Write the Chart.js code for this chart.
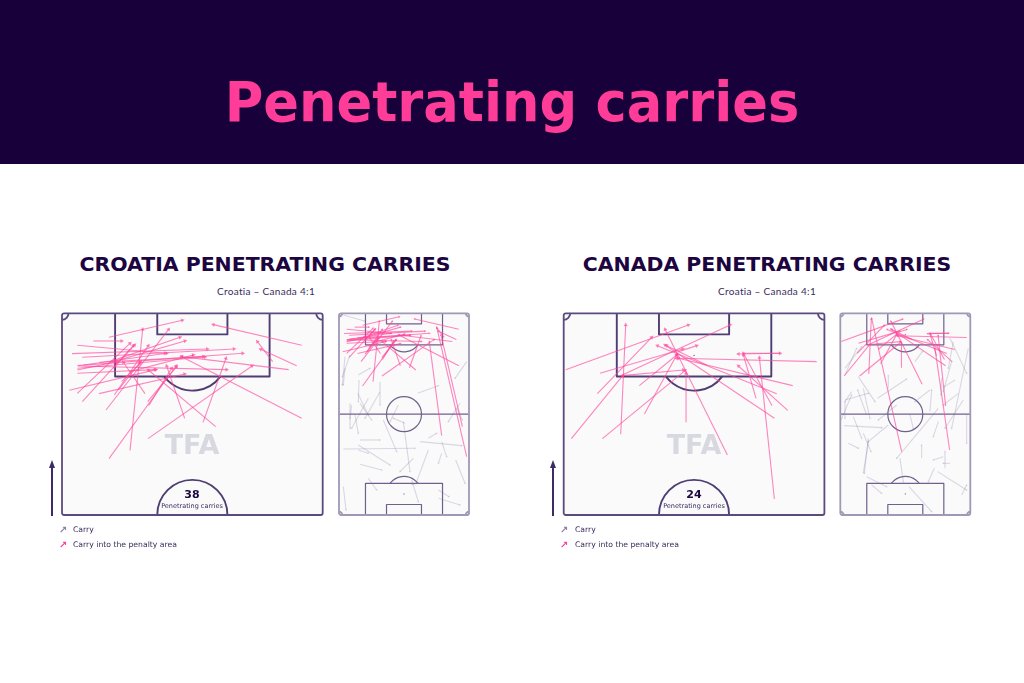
<!DOCTYPE html>
<html>
<head>
<meta charset="utf-8">
<title>Penetrating carries</title>
<script src="https://cdn.jsdelivr.net/npm/chart.js@4"></script>
<style>
  html, body { margin: 0; padding: 0; background: #fff; }
  body { position: relative; width: 1024px; height: 683px; overflow: hidden; font-family: "DejaVu Sans", sans-serif; color: #2a1650; }
  #band { position: absolute; left: 0; top: 0; width: 1024px; height: 164px; background: #18003a; }
  #title { position: absolute; left: 0; top: 62px; width: 1024px; text-align: center; color: #ff3d98; font: bold 56px "DejaVu Sans"; line-height: 80px; transform: scaleX(.94); }
  .abs { position: absolute; white-space: nowrap; }
  .head { font: bold 19px "DejaVu Sans"; color: #1c0540; text-align: center; width: 500px; line-height: 24px; transform: scaleX(1.075); }
  .sub { font: 10px "Lato"; text-align: center; width: 300px; line-height: 14px; color: #3a2a5c; letter-spacing: .3px; }
  .leg { font: 7.7px "DejaVu Sans"; line-height: 12px; color: #3a2a5c; }
  .mark { font: bold 10px "DejaVu Sans"; line-height: 12px; }
  .tfa { font: bold 27px "DejaVu Sans"; color: #d8d8e0; line-height: 30px; width: 120px; text-align: center; letter-spacing: 0; }
  .num { font: bold 11px "DejaVu Sans"; color: #1c0540; width: 60px; text-align: center; line-height: 14px; }
  .lab { font: 6.5px "DejaVu Sans"; width: 80px; text-align: center; line-height: 10px; color: #3a2a5c; }
  canvas { position: absolute; }
</style>
</head>
<body>
<div id="band"></div>
<div id="title">Penetrating carries</div>

<canvas id="croatiaHalf" width="273" height="214" style="left:56px;top:307px"></canvas>
<canvas id="croatiaFull" width="142" height="214" style="left:333px;top:307px"></canvas>
<canvas id="canadaHalf" width="273" height="214" style="left:558px;top:307px"></canvas>
<canvas id="canadaFull" width="142" height="214" style="left:834px;top:307px"></canvas>

<div class="abs head" style="left:15px;top:252px">CROATIA PENETRATING CARRIES</div>
<div class="abs sub" style="left:116px;top:284px">Croatia – Canada 4:1</div>
<div class="abs tfa" style="left:132px;top:430px">TFA</div>
<div class="abs num" style="left:162px;top:488px">38</div>
<div class="abs lab" style="left:152px;top:501px">Penetrating carries</div>
<div class="abs mark" style="left:59px;top:524px;color:#8a7da3">↗</div>
<div class="abs leg" style="left:73px;top:524px">Carry</div>
<div class="abs mark" style="left:59px;top:539px;color:#ff3d98">↗</div>
<div class="abs leg" style="left:73px;top:539px">Carry into the penalty area</div>

<div class="abs head" style="left:517px;top:252px">CANADA PENETRATING CARRIES</div>
<div class="abs sub" style="left:617px;top:284px">Croatia – Canada 4:1</div>
<div class="abs tfa" style="left:634px;top:430px">TFA</div>
<div class="abs num" style="left:664px;top:488px">24</div>
<div class="abs lab" style="left:654px;top:501px">Penetrating carries</div>
<div class="abs mark" style="left:560px;top:524px;color:#8a7da3">↗</div>
<div class="abs leg" style="left:575px;top:524px">Carry</div>
<div class="abs mark" style="left:560px;top:539px;color:#ff3d98">↗</div>
<div class="abs leg" style="left:575px;top:539px">Carry into the penalty area</div>

<svg class="abs" style="left:48px;top:458px" width="8" height="58"><path d="M4 2 L7 10 L5 10 L5 58 L3 58 L3 10 L1 10 Z" fill="#3e2a66"/></svg>
<svg class="abs" style="left:549px;top:458px" width="8" height="58"><path d="M4 2 L7 10 L5 10 L5 58 L3 58 L3 10 L1 10 Z" fill="#3e2a66"/></svg>

<script>
// each carry is [startX, startY, endX, endY], y counted down from the goal line
const croatiaBoxCarries = [
  [177,97,397,46], [755,121,490,59], [130,108,215,108], [240,436,278,73], [82,121,345,145],
  [66,146,472,132], [97,157,552,132], [82,182,578,145], [82,190,465,156], [82,265,240,115],
  [97,290,250,122], [58,256,318,194], [147,266,404,207], [168,315,356,73], [180,170,390,97],
  [190,170,405,108], [755,340,395,155], [716,194,395,155], [740,182,632,133], [668,170,622,110],
  [497,365,295,195], [404,340,350,183], [459,352,528,160], [294,401,606,183], [177,461,378,183],
  [293,290,380,185], [296,302,365,190], [285,266,220,172], [82,205,315,194], [85,183,530,194],
  [193,270,295,122], [215,230,270,175], [82,195,200,170], [100,180,350,145], [205,255,272,170],
  [190,190,254,120], [148,172,460,155], [240,200,430,150]
];
const croatiaLongCarries = [
  [320,392,283,110], [395,455,306,70], [382,365,318,90]
];
const croatiaOtherCarries = [
  [25,30,88,48], [45,150,22,215], [30,190,25,240], [70,210,105,190], [30,155,22,240],
  [72,225,70,290], [68,265,100,330], [100,280,50,370], [135,230,135,300], [135,260,90,340],
  [45,295,45,370], [60,330,70,385], [75,405,135,405], [70,420,165,480], [70,435,100,445],
  [25,432,240,430], [75,478,140,495], [145,345,185,440], [205,350,225,500], [235,460,195,500],
  [280,435,245,530], [255,410,380,422], [320,410,335,455], [320,445,310,475], [280,400,305,385],
  [362,465,390,535], [248,265,310,242], [395,170,360,220], [375,295,340,350], [365,310,382,345],
  [190,300,165,350], [210,355,175,340], [100,520,125,555], [25,545,33,615], [310,555,342,575],
  [310,580,375,600], [230,525,250,590], [228,540,248,535], [75,295,110,345], [50,300,45,340]
];
const canadaBoxCarries = [
  [47,194,415,60], [150,205,398,132], [142,266,305,97], [212,388,227,60], [64,401,218,212],
  [157,401,405,197], [268,242,380,150], [283,327,380,150], [408,352,408,205], [532,450,345,73],
  [673,582,628,158], [728,242,385,160], [800,170,380,160], [673,340,345,120], [713,316,565,183],
  [680,266,322,122], [666,302,580,145], [618,280,580,150], [212,212,540,60], [215,212,400,195],
  [690,145,565,147], [580,145,690,145], [470,180,350,122], [385,140,440,122]
];
const canadaLongCarries = [
  [200,440,110,40], [344,435,300,130]
];
const canadaOtherCarries = [
  [30,210,65,130], [30,190,80,125], [70,215,120,290], [95,330,68,255], [85,250,105,340],
  [18,345,50,270], [30,290,30,340], [28,362,140,368], [160,360,100,410], [40,415,70,430],
  [55,335,80,400], [85,385,108,440], [100,400,88,505], [128,280,215,222], [160,250,160,212],
  [240,170,262,140], [285,255,240,290], [185,300,130,345], [225,330,235,370], [310,310,185,460],
  [370,265,325,300], [360,225,328,245], [345,100,395,205], [355,110,340,190], [350,170,325,260],
  [400,130,350,370], [385,285,330,370], [395,330,395,415], [345,475,325,475], [330,490,330,440],
  [310,350,295,395], [260,460,260,420], [325,455,295,465], [298,490,280,530], [308,500,395,555],
  [380,570,395,540], [222,545,290,620], [95,515,155,545], [110,540,140,565], [195,460,205,530],
  [320,220,318,270], [285,320,290,255], [50,260,30,290], [30,285,100,265], [85,505,100,410]
];

const PINK = 'rgba(255,70,155,0.65)';
const GREY = 'rgba(125,110,155,0.25)';

// half pitch carries shrunk into the full pitch panel
function toFull(carries, offsetX) {
  return carries.map(c => [c[0] / 2 + offsetX, c[1] / 2 + 12.5, c[2] / 2 + offsetX, c[3] / 2 + 12.5]);
}

function carryDataset(c, color, headSize) {
  const angle = Math.atan2(c[2] - c[0], c[1] - c[3]) * 180 / Math.PI;
  return {
    showLine: true,
    data: [{ x: c[0], y: c[1] }, { x: c[2], y: c[3] }],
    borderColor: color,
    borderWidth: 1.1,
    pointStyle: 'triangle',
    pointRadius: [0, headSize],
    pointRotation: [0, angle],
    pointBackgroundColor: color,
    pointBorderWidth: 0,
    clip: false
  };
}

// pitch lines, sizes in metres
const pitchLines = {
  id: 'pitchLines',
  beforeDatasetsDraw(chart, args, opts) {
    const { ctx, chartArea: a } = chart;
    const m = a.width / 68;
    const cx = a.left + a.width / 2;

    ctx.save();
    ctx.lineJoin = 'round';
    ctx.beginPath();
    ctx.roundRect(a.left, a.top, a.width, a.height, 2);
    ctx.fillStyle = '#fafafb';
    ctx.fill();

    ctx.strokeStyle = opts.inner;
    ctx.fillStyle = opts.inner;
    ctx.lineWidth = opts.innerWidth;
    const goalEnd = (y, dir) => {
      const box = 40.3 * m, six = 18.3 * m;
      ctx.beginPath();
      ctx.moveTo(cx - box / 2, y);
      ctx.lineTo(cx - box / 2, y + dir * 16.5 * m);
      ctx.lineTo(cx + box / 2, y + dir * 16.5 * m);
      ctx.lineTo(cx + box / 2, y);
      ctx.stroke();
      ctx.beginPath();
      ctx.moveTo(cx - six / 2, y);
      ctx.lineTo(cx - six / 2, y + dir * 5.5 * m);
      ctx.lineTo(cx + six / 2, y + dir * 5.5 * m);
      ctx.lineTo(cx + six / 2, y);
      ctx.stroke();
      const spot = y + dir * 11 * m;
      const half = Math.acos(5.5 / 9.15);
      const mid = dir > 0 ? Math.PI / 2 : -Math.PI / 2;
      ctx.beginPath();
      ctx.arc(cx, spot, 9.15 * m, mid - half, mid + half);
      ctx.stroke();
      ctx.beginPath();
      ctx.arc(cx, spot, 0.6, 0, Math.PI * 2);
      ctx.fill();
    };
    goalEnd(a.top, 1);
    if (opts.full) {
      goalEnd(a.bottom, -1);
      ctx.beginPath();
      ctx.moveTo(a.left, a.top + a.height / 2);
      ctx.lineTo(a.right, a.top + a.height / 2);
      ctx.stroke();
      ctx.beginPath();
      ctx.arc(cx, a.top + a.height / 2, 9.15 * m, 0, Math.PI * 2);
      ctx.stroke();
    } else {
      ctx.beginPath();
      ctx.arc(cx, a.bottom, 9.15 * m, Math.PI, 0);
      ctx.stroke();
    }

    // corner flags
    ctx.strokeStyle = opts.outer;
    ctx.lineWidth = opts.outerWidth;
    const r = 1.7 * m;
    ctx.beginPath(); ctx.arc(a.left, a.top, r, 0, Math.PI / 2); ctx.stroke();
    ctx.beginPath(); ctx.arc(a.right, a.top, r, Math.PI / 2, Math.PI); ctx.stroke();
    if (opts.full) {
      ctx.beginPath(); ctx.arc(a.left, a.bottom, r, -Math.PI / 2, 0); ctx.stroke();
      ctx.beginPath(); ctx.arc(a.right, a.bottom, r, Math.PI, Math.PI * 1.5); ctx.stroke();
    }
    ctx.beginPath();
    ctx.roundRect(a.left, a.top, a.width, a.height, 2);
    ctx.stroke();
    ctx.restore();
  }
};

function pitchChart(id, datasets, xMin, xMax, pad, lines) {
  return new Chart(document.getElementById(id), {
    type: 'scatter',
    data: { datasets: datasets },
    plugins: [pitchLines],
    options: {
      responsive: false,
      animation: false,
      events: [],
      layout: { padding: pad },
      scales: {
        x: { display: false, min: xMin, max: xMax },
        y: { display: false, min: 25, max: 630, reverse: true }
      },
      plugins: { legend: { display: false }, tooltip: { enabled: false }, pitchLines: lines }
    }
  });
}

const halfLines = { full: false, inner: '#4f3d73', innerWidth: 1.9, outer: '#5b4a7e', outerWidth: 1.8 };
const fullLines = { full: true, inner: '#6f618c', innerWidth: 1.2, outer: '#a198b6', outerWidth: 1.8 };

pitchChart('croatiaHalf', croatiaBoxCarries.map(c => carryDataset(c, PINK, 2.4)), 36, 818,
  { left: 6, right: 6.3, top: 6.3, bottom: 6 }, halfLines);
pitchChart('croatiaFull', croatiaOtherCarries.map(c => carryDataset(c, GREY, 1.2))
  .concat(toFull(croatiaBoxCarries, -6).concat(croatiaLongCarries).map(c => carryDataset(c, PINK, 1.4))), 12, 402,
  { left: 6, right: 6, top: 6.3, bottom: 6 }, fullLines);
pitchChart('canadaHalf', canadaBoxCarries.map(c => carryDataset(c, PINK, 2.4)), 41, 823,
  { left: 5.7, right: 6.6, top: 6.3, bottom: 6 }, halfLines);
pitchChart('canadaFull', canadaOtherCarries.map(c => carryDataset(c, GREY, 1.2))
  .concat(toFull(canadaBoxCarries, -4.5).concat(canadaLongCarries).map(c => carryDataset(c, PINK, 1.4))), 16, 406,
  { left: 6.3, right: 5.7, top: 6.3, bottom: 6 }, fullLines);
</script>
</body>
</html>
